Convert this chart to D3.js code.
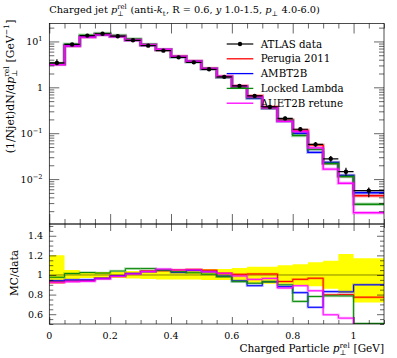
<!DOCTYPE html>
<html>
<head>
<meta charset="utf-8">
<script src="https://cdn.jsdelivr.net/npm/d3@7/dist/d3.min.js"></script>
<style>
  html, body { margin: 0; padding: 0; background: #fff; }
  svg text { font-family: "DejaVu Serif", "Liberation Serif", serif; fill: #000; white-space: pre; }
</style>
</head>
<body>
<svg id="chart" width="397" height="358"></svg>
<script>
// bin edges in p_T^rel [GeV]
const edges = [0, 0.05, 0.1, 0.15, 0.2, 0.25, 0.3, 0.35, 0.4, 0.45, 0.5,
  0.55, 0.6, 0.65, 0.7, 0.75, 0.8, 0.85, 0.9, 0.95, 1.0, 1.1];

// ATLAS data and relative uncertainties (up / down)
const atlas = [3.4, 8.6, 13.4, 14.7, 13.0, 10.6, 8.1, 6.3, 4.5, 3.5, 2.47,
  1.69, 1.07, 0.65, 0.373, 0.21, 0.122, 0.057, 0.0277, 0.0145, 0.0056];
const errUp = [0.20, 0.05, 0.03, 0.03, 0.03, 0.04, 0.05, 0.06, 0.06, 0.06, 0.06,
  0.06, 0.07, 0.085, 0.085, 0.10, 0.11, 0.13, 0.145, 0.215, 0.17];
const errDown = [0.09, 0.04, 0.03, 0.03, 0.03, 0.035, 0.04, 0.045, 0.045, 0.045, 0.05,
  0.05, 0.065, 0.08, 0.09, 0.09, 0.105, 0.115, 0.14, 0.185, 0.28];

// MC predictions
const perugia2011 = [3.16, 8.08, 12.66, 14.19, 12.87, 10.76, 8.42, 6.58, 4.73, 3.70, 2.59,
  1.72, 1.077, 0.657, 0.377, 0.196, 0.1166, 0.0551, 0.0221, 0.0116, 0.00433];
const ambt2b = [3.20, 8.17, 12.73, 14.19, 12.87, 10.76, 8.38, 6.62, 4.62, 3.66, 2.55,
  1.67, 1.006, 0.579, 0.347, 0.185, 0.100, 0.0382, 0.0230, 0.0120, 0.00504];
const lockedLambda = [3.32, 8.73, 13.74, 14.99, 13.52, 11.29, 8.63, 6.62, 4.65, 3.58, 2.49,
  1.66, 0.997, 0.595, 0.347, 0.189, 0.0891, 0.0445, 0.0218, 0.0114, 0.00283];
const auet2b = [3.13, 8.00, 12.53, 14.11, 12.81, 10.71, 8.38, 6.68, 4.73, 3.68, 2.55,
  1.72, 1.059, 0.621, 0.360, 0.182, 0.1086, 0.0478, 0.01645, 0.00812, 0.00185];

const series = [
  { name: 'Perugia 2011', values: perugia2011, color: '#ff0000' },
  { name: 'AMBT2B', values: ambt2b, color: '#0000ff' },
  { name: 'Locked Lambda', values: lockedLambda, color: '#0a8a0a' },
  { name: 'AUET2B retune', values: auet2b, color: '#ff00ff' },
];

const yMajor = [1e-2, 1e-1, 1, 10];
const rMajor = [0.6, 0.8, 1, 1.2, 1.4];

const L = 49.3, R = 384, T = 23.5, MID = 224, B = 324;
const svg = d3.select('#chart');

const x = d3.scaleLinear().domain([0, 1.1]).range([L, R]);
const y = d3.scaleLog().domain([1.05e-3, 24.6]).range([MID, T]);
const yr = d3.scaleLinear().domain([0.5, 1.52]).range([B, MID]);

// rich text: pieces laid side by side, with stacked sub/sup
function rich(parent, parts, size) {
  const g = parent.append('g');
  let cx = 0;
  parts.forEach((p) => {
    if (p.sub !== undefined || p.sup !== undefined) {
      let w = 0;
      if (p.sub) {
        const t = g.append('text').attr('x', cx).attr('y', size * 0.32)
          .attr('font-size', size * 0.7).text(p.sub);
        w = Math.max(w, t.node().getComputedTextLength());
      }
      if (p.sup) {
        const t = g.append('text').attr('x', cx).attr('y', -size * 0.4)
          .attr('font-size', size * 0.7).text(p.sup);
        w = Math.max(w, t.node().getComputedTextLength());
      }
      cx += w + 0.5;
    } else {
      const t = g.append('text').attr('x', cx).attr('font-size', size)
        .attr('font-style', p.i ? 'italic' : null).text(p.t);
      cx += t.node().getComputedTextLength();
    }
  });
  return { g, width: cx };
}

const clipMain = svg.append('clipPath').attr('id', 'clipMain');
clipMain.append('rect').attr('x', L).attr('y', T).attr('width', R - L).attr('height', MID - T);
const clipRatio = svg.append('clipPath').attr('id', 'clipRatio');
clipRatio.append('rect').attr('x', L).attr('y', MID).attr('width', R - L).attr('height', B - MID);

const stepLine = (ys) => d3.line()
  .curve(d3.curveStepAfter)
  .x((d) => x(d[0]))
  .y((d) => ys(d[1]));

const stepPoints = (vals) => {
  const pts = vals.map((v, i) => [edges[i], v]);
  pts.push([edges[edges.length - 1], vals[vals.length - 1]]);
  return pts;
};

// ---------- main panel ----------
const main = svg.append('g').attr('clip-path', 'url(#clipMain)');
series.forEach((s) => {
  main.append('path').datum(stepPoints(s.values))
    .attr('d', stepLine(y)).attr('fill', 'none')
    .attr('stroke', s.color).attr('stroke-width', 3.4).attr('stroke-opacity', 0.3);
  main.append('path').datum(stepPoints(s.values))
    .attr('d', stepLine(y)).attr('fill', 'none')
    .attr('stroke', s.color).attr('stroke-width', 1.4);
});

const dataG = main.append('g');
atlas.forEach((v, i) => {
  const xc = x((edges[i] + edges[i + 1]) / 2);
  dataG.append('line').attr('x1', x(edges[i])).attr('x2', x(edges[i + 1]))
    .attr('y1', y(v)).attr('y2', y(v)).attr('stroke', '#000').attr('stroke-width', 1.2);
  dataG.append('line').attr('x1', xc).attr('x2', xc)
    .attr('y1', y(v * (1 + errUp[i]))).attr('y2', y(v * (1 - errDown[i])))
    .attr('stroke', '#000').attr('stroke-width', 1.2);
  dataG.append('circle').attr('cx', xc).attr('cy', y(v)).attr('r', 2.2).attr('fill', '#000');
});

// ---------- ratio panel ----------
const ratio = svg.append('g').attr('clip-path', 'url(#clipRatio)');
const band = d3.area()
  .curve(d3.curveStepAfter)
  .x((d) => x(d[0]))
  .y0((d) => yr(1 - d[2]))
  .y1((d) => yr(1 + d[1]));
const bandPts = errUp.map((e, i) => [edges[i], e, errDown[i]]);
bandPts.push([edges[edges.length - 1], errUp[errUp.length - 1], errDown[errDown.length - 1]]);
ratio.append('path').datum(bandPts).attr('d', band).attr('fill', '#ffff00');
ratio.append('line').attr('x1', L).attr('x2', R).attr('y1', yr(1)).attr('y2', yr(1))
  .attr('stroke', '#000').attr('stroke-width', 0.8).attr('stroke-opacity', 0.6);

series.forEach((s) => {
  const r = s.values.map((v, i) => v / atlas[i]);
  ratio.append('path').datum(stepPoints(r))
    .attr('d', stepLine(yr)).attr('fill', 'none')
    .attr('stroke', s.color).attr('stroke-width', 2.6).attr('stroke-opacity', 0.3);
  ratio.append('path').datum(stepPoints(r))
    .attr('d', stepLine(yr)).attr('fill', 'none')
    .attr('stroke', s.color).attr('stroke-width', 1);
});

// ---------- axes ----------
const axisStyle = (g) => {
  g.select('.domain').remove();
  g.selectAll('.tick line').attr('stroke', '#000').attr('stroke-width', 0.6);
};
const noLabel = () => '';
const xMaj = x.ticks(5);
const xMin = x.ticks(22).filter((d) => !xMaj.some((m) => Math.abs(m - d) < 1e-9));

[[MID, d3.axisBottom, 10, 5], [T, d3.axisTop, 10, 5],
  [B, d3.axisBottom, 7, 4], [MID, d3.axisTop, 7, 4]].forEach(([yy, ax, big, small]) => {
  svg.append('g').attr('transform', `translate(0,${yy})`)
    .call(ax(x).tickValues(xMaj).tickSize(-big).tickFormat(noLabel)).call(axisStyle);
  svg.append('g').attr('transform', `translate(0,${yy})`)
    .call(ax(x).tickValues(xMin).tickSize(-small).tickFormat(noLabel)).call(axisStyle);
});

const yMin = y.ticks().filter((d) => !yMajor.some((m) => Math.abs(m - d) / m < 1e-6));
[[L, d3.axisLeft], [R, d3.axisRight]].forEach(([xx, ax]) => {
  svg.append('g').attr('transform', `translate(${xx},0)`)
    .call(ax(y).tickValues(yMajor).tickSize(-10).tickFormat(noLabel)).call(axisStyle);
  svg.append('g').attr('transform', `translate(${xx},0)`)
    .call(ax(y).tickValues(yMin).tickSize(-5).tickFormat(noLabel)).call(axisStyle);
});

const rMin = yr.ticks(20).filter((d) => !rMajor.some((m) => Math.abs(m - d) < 1e-9));
[[L, d3.axisLeft], [R, d3.axisRight]].forEach(([xx, ax]) => {
  svg.append('g').attr('transform', `translate(${xx},0)`)
    .call(ax(yr).tickValues(rMajor).tickSize(-7).tickFormat(noLabel)).call(axisStyle);
  svg.append('g').attr('transform', `translate(${xx},0)`)
    .call(ax(yr).tickValues(rMin).tickSize(-4).tickFormat(noLabel)).call(axisStyle);
});

// frames
[[T, MID], [MID, B]].forEach(([a, b]) => {
  svg.append('rect').attr('x', L).attr('y', a).attr('width', R - L).attr('height', b - a)
    .attr('fill', 'none').attr('stroke', '#000').attr('stroke-width', 0.7);
});

// tick labels
const fmtR = d3.format('~g');
xMaj.forEach((d) => {
  svg.append('text').attr('x', x(d)).attr('y', 338.5).attr('text-anchor', 'middle')
    .attr('font-size', 9.5).text(fmtR(d));
});
rMajor.forEach((d) => {
  svg.append('text').attr('x', 43).attr('y', yr(d) + 3.5).attr('text-anchor', 'end')
    .attr('font-size', 9.5).text(fmtR(d));
});
yMajor.forEach((d) => {
  const e = Math.round(Math.log10(d));
  const parts = e === 0 ? [{ t: '1' }] : [{ t: '10' }, { sup: e < 0 ? `\u2212${-e}` : `${e}` }];
  const lab = rich(svg, parts, 9.5);
  lab.g.attr('transform', `translate(${43 - lab.width},${y(d) + 3.5})`);
});

// title
const title = rich(svg, [
  { t: 'Charged jet ' }, { t: 'p', i: true }, { sub: '\u22a5', sup: 'rel' },
  { t: ' (anti-' }, { t: 'k', i: true }, { sub: 't' },
  { t: ', R = 0.6, ' }, { t: 'y', i: true }, { t: ' 1.0-1.5, ' },
  { t: 'p', i: true }, { sub: '\u22a5' }, { t: ' 4.0-6.0)' },
], 9.8);
title.g.attr('transform', `translate(${L},13)`);

// x label
const xl = rich(svg, [
  { t: 'Charged Particle ' }, { t: 'p', i: true }, { sub: '\u22a5', sup: 'rel' }, { t: ' [GeV]' },
], 10.5);
xl.g.attr('transform', `translate(${R - xl.width},352)`);

// y label main
const ylWrap = svg.append('g').attr('transform', `translate(13.5,${T - 4}) rotate(-90)`);
const yl = rich(ylWrap, [
  { t: '(1/Njet)dN/d' }, { t: 'p', i: true }, { sub: '\u22a5', sup: 'rel' },
  { t: ' [GeV' }, { sup: '\u22121' }, { t: ']' },
], 10.8);
yl.g.attr('transform', `translate(${-yl.width},0)`);

// y label ratio
const rlWrap = svg.append('g').attr('transform', `translate(17.5,${yr(1) - 2}) rotate(-90)`);
const rl = rich(rlWrap, [{ t: 'MC/data' }], 10.5);
rl.g.attr('transform', `translate(${-rl.width / 2},0)`);

// legend
const legend = svg.append('g');
const rowY = (i) => 44 + i * 14.8;
legend.append('line').attr('x1', 226.7).attr('x2', 253.3).attr('y1', rowY(0)).attr('y2', rowY(0))
  .attr('stroke', '#000').attr('stroke-width', 1.2);
legend.append('circle').attr('cx', 240).attr('cy', rowY(0)).attr('r', 2.2).attr('fill', '#000');
legend.append('text').attr('x', 260.7).attr('y', rowY(0) + 3.6).attr('font-size', 10.3).text('ATLAS data');
series.forEach((s, i) => {
  legend.append('line').attr('x1', 226.7).attr('x2', 253.3)
    .attr('y1', rowY(i + 1)).attr('y2', rowY(i + 1))
    .attr('stroke', s.color).attr('stroke-width', 1.3);
  legend.append('text').attr('x', 260.7).attr('y', rowY(i + 1) + 3.6)
    .attr('font-size', 10.3).text(s.name);
});
</script>
</body>
</html>
